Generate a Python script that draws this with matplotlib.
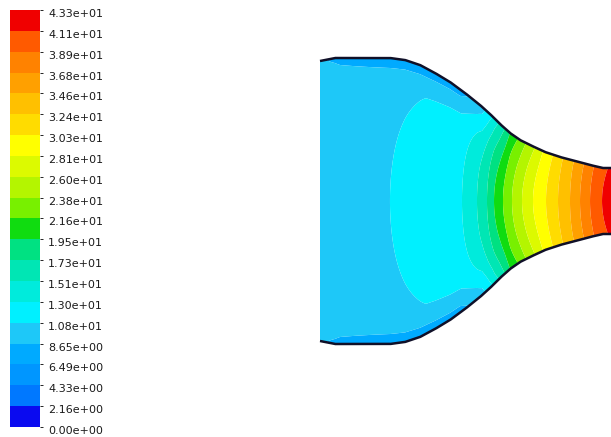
import matplotlib
matplotlib.use("Agg")
import matplotlib.pyplot as plt
import numpy as np
from matplotlib.colors import ListedColormap, BoundaryNorm
from matplotlib import transforms

# Contour levels shown on the colour bar (velocity magnitude)
level_values = [0.0, 2.16, 4.33, 6.49, 8.65, 10.8, 13.0, 15.1, 17.3, 19.5, 21.6,
                23.8, 26.0, 28.1, 30.3, 32.4, 34.6, 36.8, 38.9, 41.1, 43.3]
level_labels = ['0.00e+00', '2.16e+00', '4.33e+00', '6.49e+00', '8.65e+00',
                '1.08e+01', '1.30e+01', '1.51e+01', '1.73e+01', '1.95e+01',
                '2.16e+01', '2.38e+01', '2.60e+01', '2.81e+01', '3.03e+01',
                '3.24e+01', '3.46e+01', '3.68e+01', '3.89e+01', '4.11e+01',
                '4.33e+01']
band_colors = ['#0A0AF0', '#0078FF', '#0096FF', '#00AAFF', '#1EC8F8',
               '#00F0FF', '#00EBDC', '#00E6B4', '#00E182', '#10DC10',
               '#78F000', '#B4F500', '#DCFA00', '#FFFF00', '#FFDC00',
               '#FFC000', '#FFA000', '#FF8200', '#FF5A00', '#F00000']

# Nozzle wall: axial station and half height
wall_x = [0, 15, 70, 85, 100, 115, 130, 145, 160, 170, 180, 190, 200, 210,
          225, 240, 255, 270, 283, 291]
wall_h = [140, 143, 143, 141, 136, 128, 119, 108, 96, 87, 77, 68, 61, 56,
          49, 44, 40, 36, 33, 33]

# Velocity on the axis
axis_x = [0, 70, 142, 157, 167, 174, 183, 192, 202, 213, 226, 238, 250, 260,
          270, 282, 291]
axis_v = [10.0, 10.8, 13.0, 15.1, 17.3, 19.5, 21.6, 23.8, 26.0, 28.1, 30.3,
          32.4, 34.6, 36.8, 38.9, 41.1, 42.5]

# Velocity at the edge of the core flow (next to the wall)
edge_x = [0, 70, 110, 140, 162, 172, 179, 185, 190, 198, 206, 215, 223, 233,
          243, 254, 264, 274, 288, 291]
edge_v = [9.5, 9.8, 10.1, 10.4, 10.8, 13.0, 15.1, 17.3, 19.5, 21.6, 23.8,
          26.0, 28.1, 30.3, 32.4, 34.6, 36.8, 38.9, 41.1, 41.5]

# Velocity deficit in the wall layer
deficit_x = [0, 20, 100, 140, 160, 175]
deficit_v = [0.7, 1.3, 2.3, 2.6, 1.2, 0.0]
layer = 30.0

fig = plt.figure(figsize=(6.11, 4.37), dpi=100)
W, H = 611.0, 437.0

# Build the field on the nozzle grid
xg = np.linspace(0, 291, 700)
eta = np.linspace(-1, 1, 401)
h = np.interp(xg, wall_x, wall_h)
vc = np.interp(xg, axis_x, axis_v)
ve = np.interp(xg, edge_x, edge_v)
dv = np.interp(xg, deficit_x, deficit_v)
X, E = np.meshgrid(xg, eta)
Y = E * h
dist = (1 - np.abs(E)) * h
V = vc + (ve - vc) * E ** 2 - dv * np.clip(1 - dist / layer, 0, None)

cmap = ListedColormap(band_colors)
norm = BoundaryNorm(level_values, cmap.N)

ax = fig.add_axes([320 / W, (H - 351) / H, 291 / W, 300 / H])
cs = ax.contourf(X, Y, V, levels=level_values, cmap=cmap, norm=norm, antialiased=True)
ax.plot(xg, h, color='#101028', lw=1.8, clip_on=False, solid_capstyle='butt')
ax.plot(xg, -h, color='#101028', lw=1.8, clip_on=False, solid_capstyle='butt')
ax.set_xlim(0, 291)
ax.set_ylim(-150, 150)
ax.axis('off')

# Colour bar on the left
cax = fig.add_axes([10 / W, (H - 427) / H, 30 / W, 417 / H])
cb = fig.colorbar(cs, cax=cax)
cb.outline.set_visible(False)
cax.set_yticks([])
trans = transforms.blended_transform_factory(cax.transAxes, cax.transData)
trans = transforms.offset_copy(trans, fig=fig, x=0, y=-4, units='dots')
for val, lbl in zip(level_values, level_labels):
	cax.text(1.27, val, lbl, transform=trans, va='center', ha='left',
			 fontsize=8, color='#1a1a1a', family='DejaVu Sans')
#

fig.savefig('out.png', dpi=100, facecolor='white')
